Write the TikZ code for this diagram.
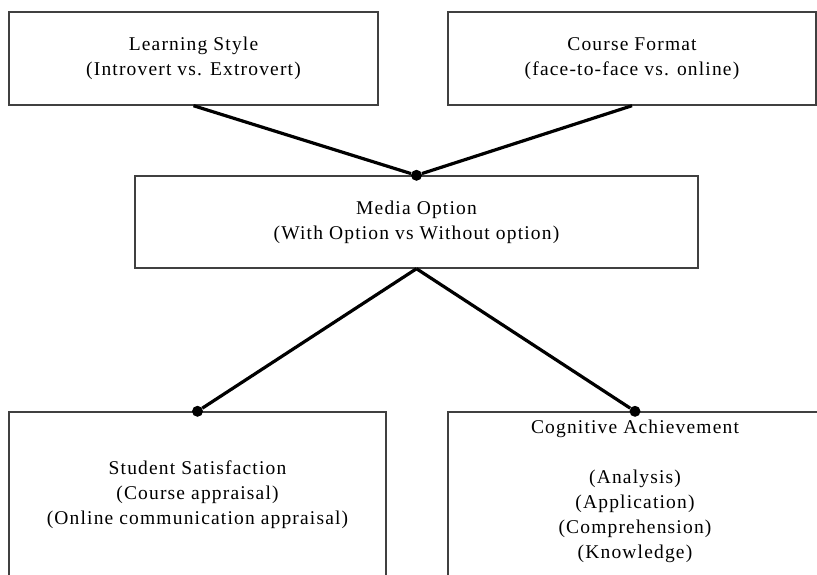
\documentclass[tikz,border=0pt]{standalone}
\usepackage{fontspec}
\setmainfont{Liberation Serif}[LetterSpace=6]
\usepackage{tikz}

\begin{document}
\begin{tikzpicture}[x=1pt,y=-1pt,
   box/.style={draw=black!75,line width=1.4pt,inner sep=0pt},
   txt/.style={align=center,inner sep=0pt,font=\fontsize{19.5}{25}\selectfont},
   dot/.style={circle,fill=black,inner sep=0pt,minimum size=11pt},
   link/.style={line width=3.2pt}]
   \useasboundingbox (0,0) rectangle (817,574);
   % boxes
   \node[box,minimum width=369pt,minimum height=93pt] (lstyle) at (193.5,58.5) {};
   \node[box,minimum width=368pt,minimum height=93pt] (cformat) at (632,58.5) {};
   \node[box,minimum width=563pt,minimum height=92pt] (media) at (416.5,222) {};
   \node[box,minimum width=377pt,minimum height=200pt] (satis) at (197.5,512) {};
   \node[box,minimum width=374pt,minimum height=200pt] (cogn) at (635,512) {};
   % texts
   \node[txt] (lstyletxt) at (lstyle) {Learning Style\\(Introvert vs. Extrovert)};
   \node[txt] (cformattxt) at (cformat) {Course Format\\(face-to-face vs. online)};
   \node[txt] (mediatxt) at (media) {Media Option\\(With Option vs Without option)};
   \node[txt] (satistxt) at (197.5,495) {Student Satisfaction\\(Course appraisal)\\(Online communication appraisal)};
   \node[txt] (cogntxt) at (635,491) {Cognitive Achievement\\[25pt](Analysis)\\(Application)\\(Comprehension)\\(Knowledge)};
   % dots
   \node[dot] (din) at (media.north) {};
   \node[dot] (dsatis) at (satis.north) {};
   \node[dot] (dcogn) at (cogn.north) {};
   % links
   \draw[link] (lstyle.south) -- (din);
   \draw[link] (cformat.south) -- (din);
   \draw[link] (media.south) -- (dsatis);
   \draw[link] (media.south) -- (dcogn);
\end{tikzpicture}
\end{document}
